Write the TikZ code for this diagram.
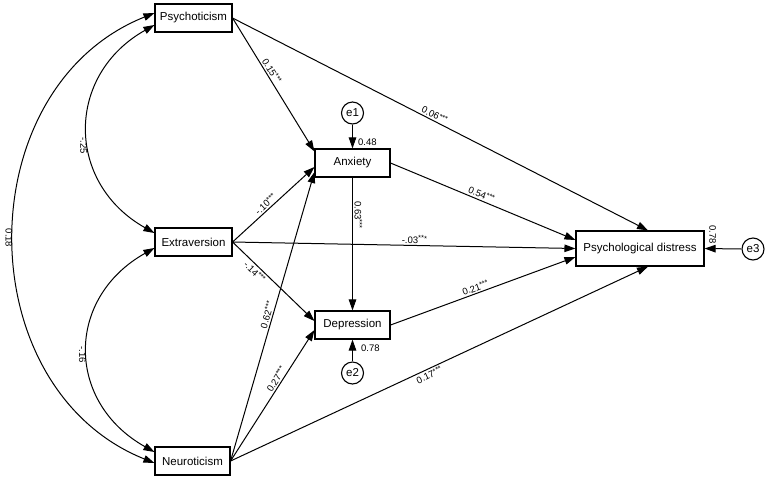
\documentclass[tikz,border=0pt]{standalone}
\usepackage{fontspec}
\setmainfont{Liberation Sans}
\usetikzlibrary{arrows.meta}
\newcommand{\sig}{{\fontsize{7.5}{8}\selectfont\raisebox{2.5pt}{***}}}
\begin{document}
\begin{tikzpicture}[x=1pt,y=-1pt,
  box/.style={draw, line width=1.1pt, inner sep=0pt, font=\fontsize{11.5}{13}\selectfont, minimum height=28pt},
  err/.style={draw, circle, line width=1.1pt, inner sep=0pt, minimum size=22pt, font=\fontsize{11.5}{13}\selectfont},
  reg/.style={line width=1pt, -{Triangle[length=11pt,width=7.5pt]}},
  cov/.style={line width=1pt, {Triangle[length=11pt,width=7.5pt]}-{Triangle[length=11pt,width=7.5pt]}},
  lbl/.style={font=\fontsize{9.5}{10}\selectfont, inner sep=1.5pt},
  vlbl/.style={lbl, rotate=-90}]
\useasboundingbox (0,0) rectangle (767,480);
\fill[white] (0,0) rectangle (767,480);
% observed variables
\node[box, minimum width=77pt] (psy) at (193.5,18) {Psychoticism};
\node[box, minimum width=77pt] (ext) at (193.5,242) {Extraversion};
\node[box, minimum width=75pt] (neu) at (192.5,461) {Neuroticism};
\node[box, minimum width=75pt] (anx) at (352.5,163) {Anxiety};
\node[box, minimum width=75pt] (dep) at (352.5,325) {Depression};
\node[box, minimum width=128pt, minimum height=35pt] (pd) at (640,248.5) {Psychological distress};
% errors
\node[err] (e1) at (352.5,113) {e1};
\node[err] (e2) at (352.5,373) {e2};
\node[err] (e3) at (753,249) {e3};
% covariances
\draw[cov] ([yshift=-7pt]psy.west) .. controls +(-89,50) and +(-89,-50) .. ([yshift=9pt]ext.west)
  node[vlbl, pos=0.57, anchor=north] {-.25};
\draw[cov] ([yshift=-6pt]ext.west) .. controls +(-89,50) and +(-89,-50) .. ([yshift=9pt]neu.west)
  node[vlbl, pos=0.52, anchor=north] {-.16};
\draw[cov] ([yshift=5pt]psy.west) .. controls +(-187,75) and +(-187,-75) .. ([yshift=-2pt]neu.west)
  node[vlbl, pos=0.5, anchor=north] {0.18};
% regressions
\draw[reg] (psy.east) -- ([yshift=-3pt]anx.north west)
  node[lbl, pos=0.42, sloped, above] {0.15\sig};
\draw[reg] (psy.east) -- ([xshift=8pt]pd.north)
  node[lbl, pos=0.48, sloped, above] {0.06\sig};
\draw[reg] (ext.east) -- ([yshift=-4pt]anx.west)
  node[lbl, pos=0.45, sloped, above] {-.10\sig};
\draw[reg] (ext.east) -- (pd.west)
  node[lbl, pos=0.53, sloped, above] {-.03\sig};
\draw[reg] (ext.east) -- ([yshift=4pt]dep.west)
  node[lbl, pos=0.32, sloped, below] {-.14\sig};
\draw[reg] (neu.east) -- ([yshift=-9pt]anx.west)
  node[lbl, pos=0.5, sloped, above] {0.62\sig};
\draw[reg] (neu.east) -- ([yshift=-5pt]dep.west)
  node[lbl, pos=0.6, sloped, above] {0.27\sig};
\draw[reg] (neu.east) -- ([xshift=8pt]pd.south)
  node[lbl, pos=0.47, sloped, below] {0.17\sig};
\draw[reg] (anx.east) -- ([yshift=8.5pt]pd.west)
  node[lbl, pos=0.48, sloped, above] {0.54\sig};
\draw[reg] (dep.east) -- ([yshift=-8.5pt]pd.west)
  node[lbl, pos=0.47, sloped, above] {0.21\sig};
\draw[reg] (anx.south) -- (dep.north)
  node[vlbl, pos=0.28, anchor=south] {0.63\sig};
\draw[reg] (e1.south) -- (anx.north);
\draw[reg] (e2.north) -- (dep.south);
\draw[reg] (e3.west) -- (pd.east);
% squared multiple correlations
\node[lbl, anchor=south west] (r1) at ([xshift=4pt,yshift=1pt]anx.north) {0.48};
\node[lbl, anchor=west] (r2) at ([xshift=7pt,yshift=-9pt]dep.south) {0.78};
\node[vlbl] (r3) at ([xshift=8pt,yshift=-4pt]pd.north east) {0.78};
\end{tikzpicture}
\end{document}
